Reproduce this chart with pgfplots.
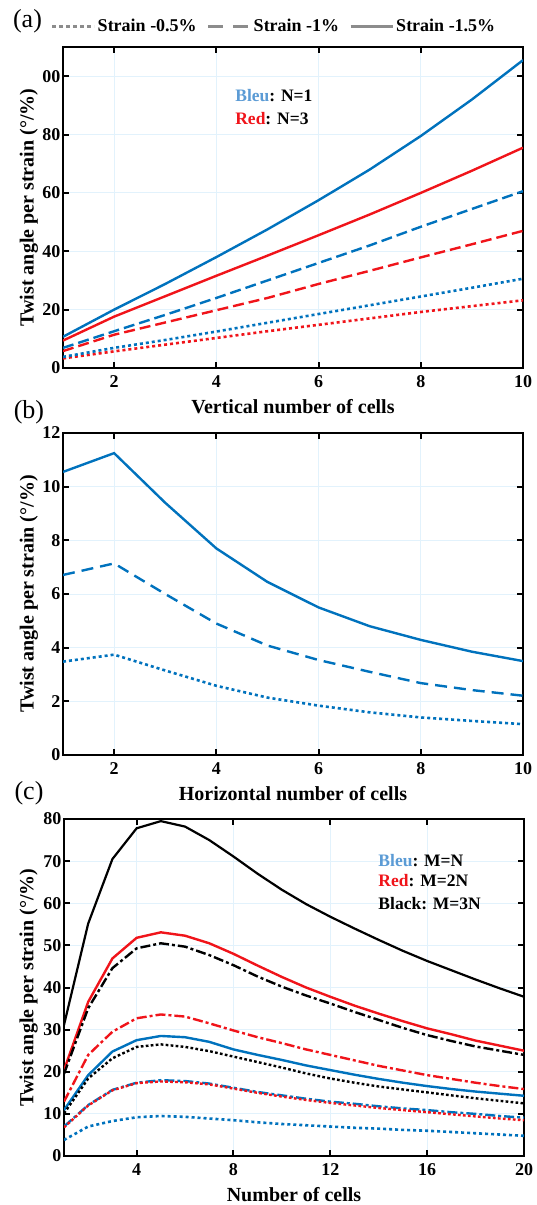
\documentclass[border=0pt]{standalone}
\usepackage{pgfplots}
\usepackage{pgfplotstable}
\pgfplotsset{compat=1.18}
\usepackage{fontspec}
\setmainfont{Liberation Serif}
\definecolor{mblue}{RGB}{0,114,189}
\definecolor{mred}{RGB}{240,20,26}
\definecolor{lblue}{RGB}{91,155,213}
\definecolor{lgray}{RGB}{140,140,140}
\definecolor{gridc}{RGB}{226,242,252}

\pgfplotstableread{
x bs rs bd rd bo ro
1 10.7 9.4 6.9 5.8 3.8 3.3
2 20.0 17.6 12.6 11.4 6.9 5.7
3 28.8 24.6 18.2 15.6 9.6 8.0
4 38.0 31.6 24.0 19.8 12.5 10.3
5 47.5 38.5 30.0 24.0 15.5 12.6
6 57.5 45.5 36.0 28.8 18.5 14.8
7 68.0 52.6 42.0 33.3 21.5 17.0
8 79.5 60.0 48.4 37.9 24.5 19.2
9 92.0 67.6 54.5 42.4 27.5 21.2
10 105.5 75.5 60.6 47.0 30.6 23.2
}\tabA

\pgfplotstableread{
x s d o
1 10.55 6.71 3.48
2 11.25 7.14 3.74
3 9.40 6.00 3.15
4 7.70 4.90 2.58
5 6.45 4.08 2.14
6 5.50 3.54 1.84
7 4.80 3.10 1.59
8 4.29 2.68 1.40
9 3.85 2.42 1.27
10 3.50 2.21 1.15
}\tabB

\pgfplotstableread{
x ks rs kd rd bs ko bd ro bo
1 31.1 20.4 19.5 12.9 10.9 10.1 7.0 6.8 3.8
2 55.2 36.6 35.1 24.0 19.2 18.4 12.1 12.0 7.0
3 70.5 46.9 44.6 29.5 24.8 23.2 15.7 15.6 8.3
4 77.8 51.8 49.3 32.7 27.5 25.9 17.4 17.3 9.2
5 79.5 53.1 50.5 33.6 28.5 26.5 18.0 17.7 9.5
6 78.2 52.3 49.7 33.1 28.2 25.9 17.8 17.5 9.3
7 75.0 50.5 47.7 31.5 27.1 24.9 17.2 17.0 8.9
8 71.1 48.0 45.3 29.8 25.3 23.6 16.2 16.0 8.5
9 67.0 45.2 42.6 28.2 24.0 22.3 15.2 15.0 8.0
10 63.2 42.5 40.2 26.8 22.8 21.0 14.4 14.1 7.6
11 59.8 40.0 38.1 25.3 21.5 19.6 13.6 13.3 7.3
12 56.8 37.8 36.2 24.0 20.4 18.4 12.9 12.6 7.0
13 54.0 35.7 34.2 22.7 19.3 17.4 12.4 12.0 6.7
14 51.3 33.8 32.3 21.4 18.3 16.5 11.8 11.4 6.5
15 48.7 32.0 30.4 20.3 17.4 15.8 11.3 10.9 6.2
16 46.3 30.3 28.7 19.2 16.6 15.1 10.9 10.4 6.0
17 44.1 28.9 27.3 18.3 15.9 14.4 10.4 9.9 5.7
18 41.9 27.4 26.0 17.4 15.3 13.7 10.0 9.4 5.4
19 39.8 26.2 25.0 16.6 14.8 13.1 9.5 8.9 5.1
20 37.8 25.0 24.0 15.9 14.3 12.5 9.1 8.5 4.8
}\tabC

\pgfplotsset{
  myax/.style={
    scale only axis, width=460pt, anchor=south west,
    axis line style={line width=2.6pt},
    tick align=inside, xtick pos=both, ytick pos=both,
    major tick length=6pt,
    every tick/.style={black, line width=2pt},
    grid=major, major grid style={gridc, line width=1pt},
    /pgf/number format/assume math mode=true,
    ticklabel style={font=\bfseries\fontsize{18}{18}\selectfont},
    xticklabel style={yshift=-4pt},
    yticklabel style={xshift=1pt},
    label style={font=\bfseries\fontsize{20}{20}\selectfont},
    xlabel style={at={(axis description cs:0.5,0)}, anchor=center, yshift=-39pt},
    ylabel style={at={(axis description cs:-0.074,0.5)}, anchor=center, rotate=0},
    ylabel={Twist angle per strain (°/\%)},
    clip=true,
  },
  sol/.style={line width=2.4pt},
  dsh/.style={line width=2.4pt, dash pattern=on 11pt off 5pt},
  dot/.style={line width=2.6pt, dash pattern=on 3pt off 3pt},
  ddt/.style={line width=2.4pt, dash pattern=on 10pt off 3pt on 3pt off 3pt},
}

\begin{document}
\begin{tikzpicture}
\path[use as bounding box] (0,0) rectangle (537pt,-1205pt);

% (a)
\begin{axis}[myax, at={(63pt,-368pt)}, height=321pt,
  xmin=1, xmax=10, ymin=0, ymax=110,
  xtick={2,4,6,8,10}, ytick={0,20,40,60,80,100},
  yticklabels={0,20,40,60,80,00},
  xlabel={Vertical number of cells},
  legend columns=3,
  legend style={at={(0.4587,1.0654)}, anchor=center, draw=none, fill=none,
    font=\bfseries\fontsize{18}{18}\selectfont,
    /tikz/every even column/.append style={column sep=8pt}},
  legend image code/.code={\draw[#1] (0pt,0pt) -- (42pt,0pt);},
]
\addlegendimage{lgray, line width=3pt, dash pattern=on 4pt off 3pt}
\addlegendentry{Strain -0.5\%}
\addlegendimage{lgray, line width=3pt, dash pattern=on 15pt off 10pt}
\addlegendentry{Strain -1\%}
\addlegendimage{lgray, line width=3pt}
\addlegendentry{Strain -1.5\%}
\addplot[forget plot, mred, dot] table[x=x,y=ro] {\tabA};
\addplot[forget plot, mblue, dot] table[x=x,y=bo] {\tabA};
\addplot[forget plot, mred, dsh] table[x=x,y=rd] {\tabA};
\addplot[forget plot, mblue, dsh] table[x=x,y=bd] {\tabA};
\addplot[forget plot, mred, sol] table[x=x,y=rs] {\tabA};
\addplot[forget plot, mblue, sol] table[x=x,y=bs] {\tabA};
\node[anchor=west, font=\bfseries\fontsize{17.5}{17.5}\selectfont] at (rel axis cs:0.367,0.850) {\textcolor{lblue}{Bleu}: N=1};
\node[anchor=west, font=\bfseries\fontsize{17.5}{17.5}\selectfont] at (rel axis cs:0.367,0.776) {\textcolor{mred}{Red}: N=3};
\end{axis}

% (b)
\begin{axis}[myax, at={(63pt,-755pt)}, height=322pt,
  xmin=1, xmax=10, ymin=0, ymax=12,
  xtick={2,4,6,8,10}, ytick={0,2,...,12},
  xlabel={Horizontal number of cells},
]
\addplot[mblue, dot] table[x=x,y=o] {\tabB};
\addplot[mblue, line width=2.4pt, dash pattern=on 12pt off 7pt] table[x=x,y=d] {\tabB};
\addplot[mblue, sol] table[x=x,y=s] {\tabB};
\end{axis}

% (c)
\begin{axis}[myax, at={(64pt,-1156pt)}, height=337pt,
  xmin=1, xmax=20, ymin=0, ymax=80,
  xtick={4,8,12,16,20}, ytick={0,10,...,80},
  xlabel={Number of cells},
  ylabel style={at={(axis description cs:-0.077,0.5)}},
]
\addplot[black, line width=2.2pt] table[x=x,y=ks] {\tabC};
\addplot[mred, sol] table[x=x,y=rs] {\tabC};
\addplot[black, ddt] table[x=x,y=kd] {\tabC};
\addplot[mred, ddt] table[x=x,y=rd] {\tabC};
\addplot[mblue, sol] table[x=x,y=bs] {\tabC};
\addplot[black, line width=2.4pt, dash pattern=on 2.7pt off 2.3pt] table[x=x,y=ko] {\tabC};
\addplot[mblue, ddt] table[x=x,y=bd] {\tabC};
\addplot[mred, line width=2.4pt, dash pattern=on 2.7pt off 2.3pt] table[x=x,y=ro] {\tabC};
\addplot[mblue, dot] table[x=x,y=bo] {\tabC};
\node[anchor=west, font=\bfseries\fontsize{17.5}{17.5}\selectfont] at (rel axis cs:0.676,0.878) {\textcolor{lblue}{Bleu}: M=N};
\node[anchor=west, font=\bfseries\fontsize{17.5}{17.5}\selectfont] at (rel axis cs:0.676,0.816) {\textcolor{mred}{Red}: M=2N};
\node[anchor=west, font=\bfseries\fontsize{17.5}{17.5}\selectfont] at (rel axis cs:0.676,0.748) {Black: M=3N};
\end{axis}

\node[font=\fontsize{26}{26}\selectfont] at (27.5pt,-21pt) {(a)};
\node[font=\fontsize{26}{26}\selectfont] at (29pt,-412pt) {(b)};
\node[font=\fontsize{26}{26}\selectfont] at (29pt,-793pt) {(c)};
\end{tikzpicture}
\end{document}
